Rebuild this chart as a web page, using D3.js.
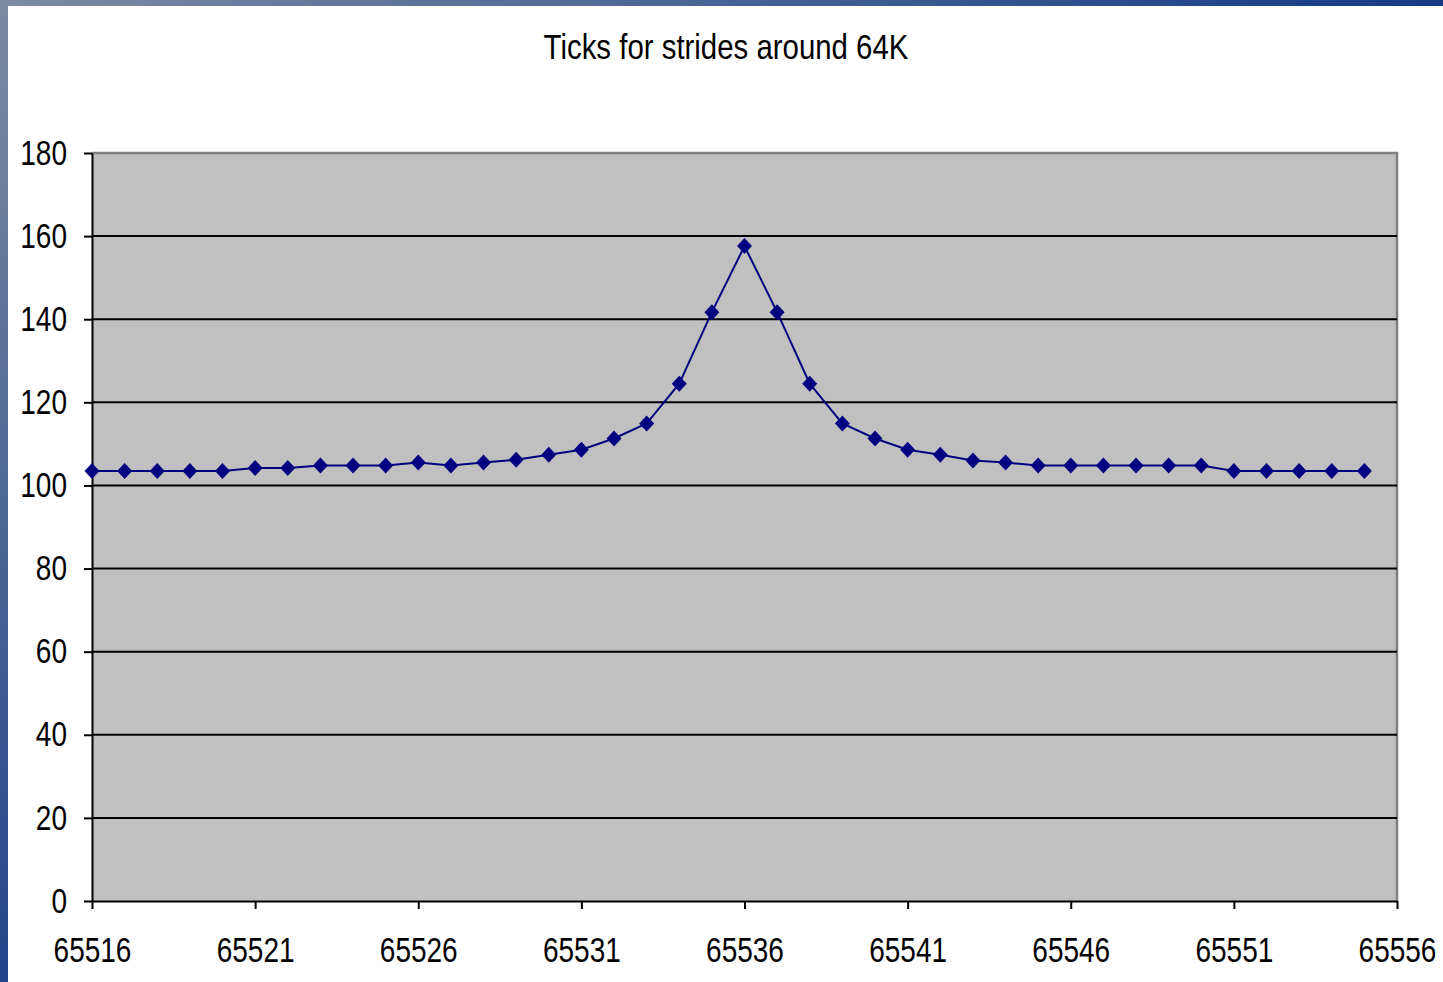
<!DOCTYPE html>
<html>
<head>
<meta charset="utf-8">
<script src="https://cdn.jsdelivr.net/npm/d3@7"></script>
<style>
html,body{margin:0;padding:0;background:#fff;}
svg{display:block;}
text{font-family:"Liberation Sans",Arial,sans-serif;fill:#000;}
</style>
</head>
<body>
<svg id="chart" width="1443" height="982"></svg>
<script>
const title = "Ticks for strides around 64K";
const strides = d3.range(65516, 65556);
const ticks = [103.5,103.5,103.5,103.5,103.5,104.2,104.2,104.8,104.8,104.8,
               105.5,104.8,105.5,106.2,107.4,108.6,111.3,114.9,124.5,141.7,
               157.6,141.7,124.5,114.9,111.3,108.6,107.4,106.0,105.5,104.8,
               104.8,104.8,104.8,104.8,104.8,103.5,103.5,103.5,103.5,103.5];
const xTickValues = [65516,65521,65526,65531,65536,65541,65546,65551,65556];
const yTickValues = [0,20,40,60,80,100,120,140,160,180];

const W = 1443, H = 982;
const m = {left:92, top:153, right:1397, bottom:901};
const SX = 0.8; // condensed look
const svg = d3.select("#chart");
const defs = svg.append("defs");
const gv = defs.append("linearGradient").attr("id","gv").attr("x1",0).attr("y1",0).attr("x2",0).attr("y2",1);
gv.append("stop").attr("offset","0%").attr("stop-color","#7c8ba1");
gv.append("stop").attr("offset","100%").attr("stop-color","#22448b");
const gh = defs.append("linearGradient").attr("id","gh").attr("x1",0).attr("y1",0).attr("x2",1).attr("y2",0);
gh.append("stop").attr("offset","0%").attr("stop-color","#7c8ba1");
gh.append("stop").attr("offset","100%").attr("stop-color","#143a86");

svg.append("rect").attr("width",W).attr("height",H).attr("fill","#fff");
svg.append("rect").attr("x",0).attr("y",0).attr("width",W).attr("height",6).attr("fill","url(#gh)");
svg.append("rect").attr("x",0).attr("y",0).attr("width",8).attr("height",H).attr("fill","url(#gv)");

const x = d3.scaleLinear().domain([65516,65556]).range([m.left,m.right]);
const y = d3.scaleLinear().domain([0,180]).range([m.bottom,m.top]);

// plot area
svg.append("rect").attr("x",m.left).attr("y",m.top).attr("width",m.right-m.left).attr("height",m.bottom-m.top)
  .attr("fill","#c0c0c0");
svg.append("path").attr("d",`M${m.left},${m.top}H${m.right}V${m.bottom}`).attr("fill","none")
  .attr("stroke","#808080").attr("stroke-width",2.5);

// gridlines
svg.append("g").selectAll("line").data(yTickValues.filter(v=>v>0 && v<180)).join("line")
  .attr("x1",m.left).attr("x2",m.right).attr("y1",d=>y(d)).attr("y2",d=>y(d))
  .attr("stroke","#000").attr("stroke-width",2);

// axes
const yAxis = svg.append("g").attr("transform",`translate(${m.left},0)`)
  .call(d3.axisLeft(y).tickValues(yTickValues).tickSize(8).tickPadding(17).tickSizeOuter(0));
const xAxis = svg.append("g").attr("transform",`translate(0,${m.bottom})`)
  .call(d3.axisBottom(x).tickValues(xTickValues).tickFormat(d3.format("d")).tickSize(8).tickPadding(28).tickSizeOuter(0));
[yAxis,xAxis].forEach(a=>{
  a.select(".domain").attr("stroke","#000").attr("stroke-width",2);
  a.selectAll(".tick line").attr("stroke","#000").attr("stroke-width",2);
  a.selectAll("text").attr("font-size",35).attr("fill","#000")
   .style("font-family",'"Liberation Sans",Arial,sans-serif');
});
yAxis.selectAll(".tick text").attr("x",-25/SX).attr("transform",`scale(${SX},1)`);
xAxis.selectAll(".tick text").attr("transform",`scale(${SX},1)`);

// line
const line = d3.line().x((d,i)=>x(strides[i])).y(d=>y(d));
svg.append("path").datum(ticks).attr("d",line).attr("fill","none")
  .attr("stroke","#000080").attr("stroke-width",2);
svg.append("g").selectAll("path").data(ticks).join("path")
  .attr("transform",(d,i)=>`translate(${x(strides[i])},${y(d)})`)
  .attr("d","M0,-8L7.5,0L0,8L-7.5,0Z").attr("fill","#000080");

// title
svg.append("text").attr("transform","translate(726,59) scale(0.84,1)").attr("text-anchor","middle")
  .attr("font-size",35).text(title);
</script>
</body>
</html>
